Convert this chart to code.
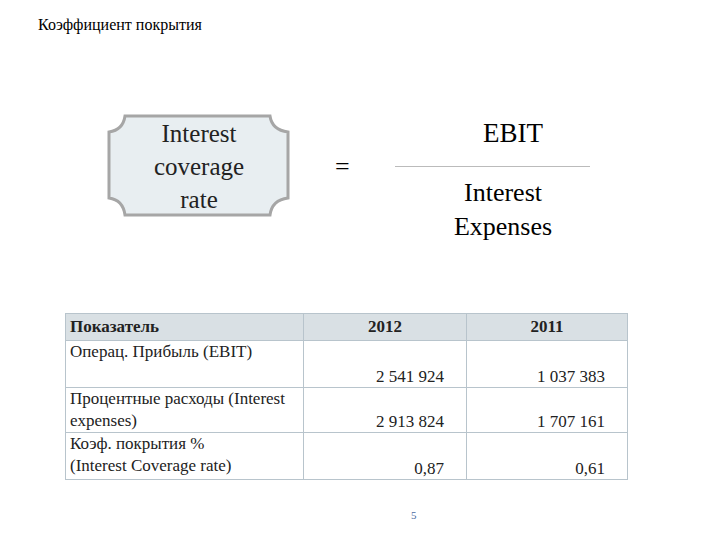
<!DOCTYPE html>
<html><head><meta charset="utf-8">
<script src="https://cdn.jsdelivr.net/npm/chart.js@4.4.0/dist/chart.umd.min.js"></script>
<style>
body{margin:0;width:720px;height:540px;background:#fff;position:relative;font-family:"Times New Roman","Liberation Serif","DejaVu Serif",serif;overflow:hidden}
.abs{position:absolute}
#tbl{position:absolute;left:65px;top:313px;border-collapse:collapse;font-size:17px;color:#222;font-family:inherit}
#tbl td{border:1px solid #b8c4cc;padding:0 4px;vertical-align:top}
#tbl tr.h td{background:#d9e0e4;font-weight:bold;height:26px;vertical-align:middle}
#tbl td.n{text-align:right;vertical-align:bottom;padding-right:22px}
#tbl td.l{line-height:22px}
</style></head><body>
<div class="abs" style="left:38px;top:16px;font-size:16px">Коэффициент покрытия</div>
<svg class="abs" style="left:105px;top:112px" width="190" height="108">
<path d="M20,4 L165,4 Q167,18 183,20 L183,86 Q167,88 165,103 L20,103 Q18,88 4,86 L4,20 Q18,18 20,4 Z" fill="#e8eef1" stroke="#a6a6a6" stroke-width="3"/>
</svg>
<div class="abs" style="left:110px;top:117px;width:178px;text-align:center;font-size:25px;line-height:33px;color:#222">Interest<br>coverage<br>rate</div>
<div class="abs" style="left:335px;top:152px;font-size:26px">=</div>
<div class="abs" style="left:430px;top:118px;width:166px;text-align:center;font-size:27px">EBIT</div>
<div class="abs" style="left:395px;top:166px;width:195px;height:1px;background:#bbb"></div>
<div class="abs" style="left:420px;top:176px;width:166px;text-align:center;font-size:26px;line-height:34px">Interest<br>Expenses</div>
<table id="tbl"></table>
<div class="abs" style="left:411px;top:509px;font-size:11px;color:#4a6aa0">5</div>
<script>
const columns = ['Показатель', '2012', '2011'];
const rowLabels = ['Операц. Прибыль (EBIT)', 'Процентные расходы (Interest expenses)', 'Коэф. покрытия %<br>(Interest Coverage rate)'];
const values2012 = ['2 541 924', '2 913 824', '0,87'];
const values2011 = ['1 037 383', '1 707 161', '0,61'];
const rowHeights = [47, 45, 47];

const tbl = document.getElementById('tbl');
let html = '<tr class="h"><td style="width:229px">' + columns[0] + '</td><td style="width:154px;text-align:center">' + columns[1] + '</td><td style="width:152px;text-align:center">' + columns[2] + '</td></tr>';
rowLabels.forEach((lab, i) => {
  html += '<tr style="height:' + rowHeights[i] + 'px"><td class="l">' + lab + '</td><td class="n">' + values2012[i] + '</td><td class="n">' + values2011[i] + '</td></tr>';
});
tbl.innerHTML = html;
</script>
</body></html>
